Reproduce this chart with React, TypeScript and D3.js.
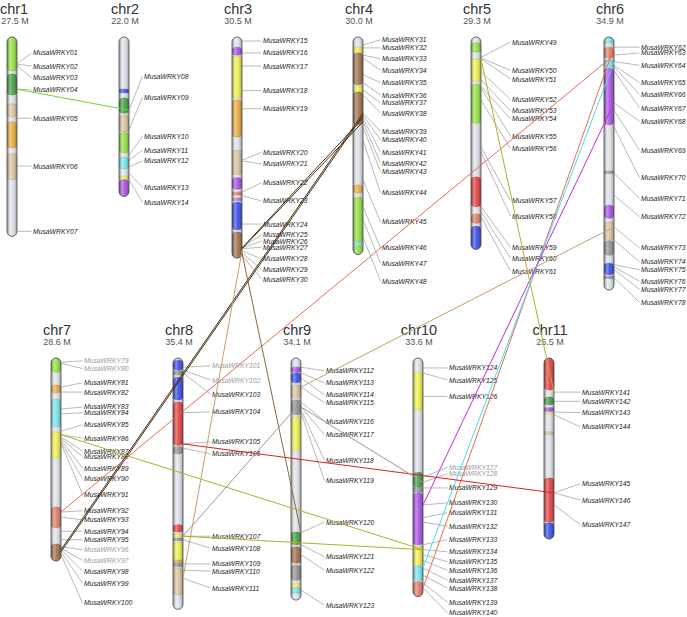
import React from "react";
import * as d3 from "d3";

// ---------- data ----------
const chromosomes = ["chr1", "chr2", "chr3", "chr4", "chr5", "chr6", "chr7", "chr8", "chr9", "chr10", "chr11"];
const chromLengthsMb = [27.5, 22.0, 30.5, 30.0, 29.3, 34.9, 28.6, 35.4, 34.1, 33.6, 25.5];

// bands: [startMb, endMb, colorKey]
const chr1Bands = [[0, 4.7, "lime"], [5.1, 8.0, "green"], [9.2, 11.0, "tan"], [11.7, 15.3, "orange"], [16.1, 19.7, "tan"]];
const chr2Bands = [[7.2, 7.7, "blue"], [8.4, 10.5, "green"], [10.8, 13.1, "tan"], [13.2, 16.0, "lime"], [16.6, 18.2, "cyan"], [19.2, 19.6, "yellow"], [19.7, 22.0, "purple"]];
const chr3Bands = [[1.4, 2.5, "purple"], [2.6, 8.4, "yellow"], [8.7, 13.8, "orange"], [15.6, 19.0, "tan"], [19.4, 21.0, "purple"], [21.4, 21.8, "salmon"], [22.2, 22.6, "pink"], [22.8, 26.6, "blue"], [26.9, 30.5, "brown"]];
const chr4Bands = [[1.4, 2.2, "yellow"], [2.2, 6.6, "brown"], [6.8, 7.6, "yellow"], [7.6, 12.1, "brown"], [20.4, 21.5, "orange"], [22.1, 28.3, "lime"], [28.3, 28.7, "cyan"], [28.8, 29.9, "lime"]];
const chr5Bands = [[0.8, 2.1, "lime"], [3.0, 6.1, "yellow"], [6.5, 11.9, "lime"], [19.3, 23.4, "red"], [24.4, 25.7, "salmon"], [26.1, 29.3, "blue"]];
const chr6Bands = [[0.1, 0.8, "cyan"], [1.4, 2.9, "salmon"], [3.2, 4.1, "cyan"], [4.3, 12.1, "purple"], [18.5, 18.8, "gray"], [23.2, 25.0, "purple"], [25.5, 28.0, "tan"], [28.1, 30.1, "gray"], [31.2, 32.8, "blue"], [33.0, 33.3, "gray"]];
const chr7Bands = [[0, 2.0, "lime"], [3.8, 4.9, "orange"], [5.8, 9.7, "cyan"], [10.4, 14.1, "yellow"], [21.0, 23.9, "salmon"], [26.2, 28.6, "brown"]];
const chr8Bands = [[0.3, 1.7, "blue"], [1.8, 2.4, "gray"], [2.7, 5.9, "blue"], [6.2, 12.3, "red"], [12.5, 13.5, "gray"], [23.5, 24.5, "red"], [24.8, 25.2, "yellow"], [25.4, 25.7, "gray"], [25.9, 28.5, "yellow"], [28.5, 28.8, "orange"], [28.9, 29.4, "gray"], [29.6, 33.4, "tan"]];
const chr9Bands = [[1.3, 2.0, "purple"], [2.1, 3.5, "blue"], [3.8, 5.6, "tan"], [5.9, 8.0, "gray"], [8.3, 13.0, "yellow"], [24.5, 26.3, "green"], [26.6, 28.9, "brown"], [29.2, 31.3, "gray"], [31.8, 32.3, "yellow"], [32.4, 33.1, "cyan"]];
const chr10Bands = [[2.0, 7.3, "yellow"], [16.1, 18.2, "green"], [18.2, 18.9, "gray"], [19.0, 26.3, "purple"], [26.5, 29.2, "yellow"], [29.3, 31.3, "cyan"], [31.5, 33.6, "salmon"]];
const chr11Bands = [[0, 4.5, "red"], [5.5, 6.6, "green"], [7.0, 7.5, "purple"], [7.7, 7.9, "yellow"], [10.4, 10.8, "tan"], [16.9, 23.1, "red"], [23.2, 25.5, "blue"]];

// genes: [MusaWRKY number, positionMb, labelMb]
const chr1Genes = [[1, 3.7, 2.2], [2, 3.75, 4.0], [3, 3.9, 5.65], [4, 7.2, 7.3], [5, 11.2, 11.2], [6, 17.8, 17.8], [7, 26.8, 26.8]];
const chr2Genes = [[8, 10.1, 5.4], [9, 12.8, 8.3], [10, 16.3, 13.7], [11, 17.0, 15.6], [12, 17.9, 17.1], [13, 18.8, 20.7], [14, 19.7, 22.8]];
const chr3Genes = [[15, 0.55, 0.55], [16, 2.2, 2.2], [17, 4.0, 4.0], [18, 7.4, 7.4], [19, 9.9, 9.9], [20, 17.0, 15.9], [21, 17.1, 17.5], [22, 21.4, 20.1], [23, 21.9, 22.6], [24, 25.8, 25.8], [25, 29.0, 27.3], [26, 29.1, 28.15], [27, 29.2, 29.0], [28, 29.5, 30.6], [29, 29.8, 32.0], [30, 30.1, 33.4]];
const chr4Genes = [[31, 1.1, 0.4], [32, 1.5, 1.5], [33, 2.5, 3.0], [34, 2.9, 4.6], [35, 5.2, 6.3], [36, 6.3, 8.0], [37, 7.3, 9.1], [38, 8.0, 10.5], [39, 10.5, 13.0], [40, 10.8, 14.2], [41, 11.2, 15.9], [42, 11.7, 17.4], [43, 12.4, 18.6], [44, 14.2, 21.5], [45, 19.7, 25.5], [46, 23.4, 29.1], [47, 25.2, 31.2], [48, 27.6, 33.7]];
const chr5Genes = [[49, 2.8, 0.7], [50, 2.9, 4.6], [51, 3.0, 5.8], [52, 4.8, 8.6], [53, 5.9, 10.2], [54, 6.8, 11.3], [55, 7.0, 13.7], [56, 8.7, 15.4], [57, 15.2, 22.6], [58, 15.9, 24.7], [59, 23.4, 29.0], [60, 24.1, 30.5], [61, 24.8, 32.3]];
const chr6Genes = [[62, 1.4, 1.4], [63, 2.5, 2.2], [64, 3.4, 3.9], [65, 3.9, 6.3], [66, 4.1, 7.9], [67, 4.6, 9.8], [68, 9.1, 11.6], [69, 10.1, 15.6], [70, 12.4, 19.4], [71, 18.8, 22.3], [72, 21.8, 24.8], [73, 26.2, 29.1], [74, 28.0, 31.0], [75, 31.4, 32.1], [76, 31.7, 33.7], [77, 32.1, 34.8], [78, 33.2, 36.6]];
const chr7Genes = [[79, 0.6, 0.4], [80, 0.7, 1.5], [81, 4.1, 3.5], [82, 4.8, 4.8], [83, 7.2, 6.9], [84, 7.9, 7.7], [85, 10.3, 9.4], [86, 10.8, 11.3], [87, 11.1, 13.1], [88, 11.3, 13.9], [89, 11.5, 15.5], [90, 11.8, 17.0], [91, 12.0, 19.2], [92, 21.7, 21.5], [93, 22.4, 22.8], [94, 24.4, 24.4], [95, 25.6, 25.6], [96, 26.6, 27.0], [97, 26.8, 28.5], [98, 27.0, 30.0], [99, 27.3, 31.7], [100, 27.7, 34.5]];
const chr8Genes = [[101, 1.3, 1.1], [102, 1.7, 3.1], [103, 2.1, 5.1], [104, 7.7, 7.6], [105, 12.1, 11.8], [106, 12.7, 13.5], [107, 25.1, 25.1], [108, 25.6, 26.8], [109, 29.0, 29.0], [110, 29.9, 30.0], [111, 31.0, 32.4]];
const chr9Genes = [[112, 1.3, 1.8], [113, 2.1, 3.5], [114, 2.8, 5.2], [115, 4.1, 6.3], [116, 6.2, 8.9], [117, 6.9, 10.8], [118, 7.3, 14.4], [119, 7.7, 17.3], [120, 24.6, 23.1], [121, 26.3, 28.0], [122, 27.7, 29.9], [123, 32.7, 34.8]];
const chr10Genes = [[124, 1.4, 1.4], [125, 2.1, 3.1], [126, 5.4, 5.4], [127, 16.8, 15.4], [128, 17.5, 16.3], [129, 18.3, 18.3], [130, 20.7, 20.4], [131, 22.5, 21.8], [132, 23.1, 23.7], [133, 26.3, 25.6], [134, 27.0, 27.3], [135, 27.7, 28.7], [136, 28.5, 29.9], [137, 29.6, 31.3], [138, 30.6, 32.4], [139, 31.7, 34.4], [140, 32.4, 35.9]];
const chr11Genes = [[141, 4.8, 4.8], [142, 6.1, 6.1], [143, 7.6, 7.7], [144, 8.0, 9.7], [145, 19.0, 17.7], [146, 19.0, 20.0], [147, 20.7, 23.5]];

const mutedGenes = [79, 80, 96, 97, 101, 102, 127, 128];

// segmental duplication links: [geneA, geneB, colorKey]
const links = [
  [4, 8, "lime"], [26, 41, "darkbrown"], [27, 42, "darkbrown"], [39, 98, "darkbrown"], [40, 99, "darkbrown"],
  [28, 111, "tanLink"], [29, 120, "brownLink"], [63, 92, "salmon"], [62, 140, "salmon"], [64, 137, "cyan"],
  [68, 130, "magenta"], [73, 115, "tanLink"], [51, 141, "olive"], [86, 134, "olive"], [107, 134, "olive"],
  [105, 146, "red"], [107, 116, "gray"], [117, 128, "gray"],
];

const allBands = [chr1Bands, chr2Bands, chr3Bands, chr4Bands, chr5Bands, chr6Bands, chr7Bands, chr8Bands, chr9Bands, chr10Bands, chr11Bands];
const allGenes = [chr1Genes, chr2Genes, chr3Genes, chr4Genes, chr5Genes, chr6Genes, chr7Genes, chr8Genes, chr9Genes, chr10Genes, chr11Genes];

// ---------- styles / layout ----------
const bandColors: Record<string, string> = {
  lime: "#8ddf3c", green: "#3e9b3e", tan: "#d9c19e", orange: "#e6a838", blue: "#3448e6",
  cyan: "#72e2ea", yellow: "#eeee4a", purple: "#a64ce2", brown: "#9c6c46", red: "#e03c3c",
  salmon: "#dc7a62", gray: "#8e8e8e", pink: "#c86ad6",
};
const linkColors: Record<string, string> = {
  lime: "#6fd43a", darkbrown: "#4a3018", tanLink: "#c4a070", brownLink: "#8a6a44", salmon: "#e07050",
  cyan: "#48dcea", magenta: "#c22ee0", olive: "#b4ae30", red: "#e02020", gray: "#9a9a9a",
};
const chromRow = [0, 0, 0, 0, 0, 0, 1, 1, 1, 1, 1];
const chromX = [12, 124, 237, 358, 476, 609, 56, 178, 296, 418, 549];
const labelGap = [21, 20, 26, 24, 36, 32, 28, 34, 30, 31, 33];
const rows = [{ top: 37, pxPerMb: 7.25 }, { top: 358, pxPerMb: 7.1 }];

const FONT = "'Liberation Sans', Arial, Helvetica, sans-serif";
const HW = 5;

export default function App() {
  const yScales = rows.map((r) => d3.scaleLinear().domain([0, 40]).range([r.top, r.top + 40 * r.pxPerMb]));
  const geneLookup = new Map<number, { x: number; y: number }>();
  allGenes.forEach((list, ci) => {
    const y = yScales[chromRow[ci]];
    list.forEach((g) => geneLookup.set(g[0] as number, { x: chromX[ci] + HW, y: y(g[1] as number) }));
  });
  const fmt = (n: number) => "MusaWRKY" + String(n).padStart(2, "0");

  return (
    <svg width={687} height={617} style={{ position: "absolute", left: 0, top: 0, background: "#fff" }} fontFamily={FONT}>
      <defs>
        <linearGradient id="cyl" x1="0" x2="1" y1="0" y2="0">
          <stop offset="0" stopColor="#000" stopOpacity={0.28} />
          <stop offset="0.3" stopColor="#fff" stopOpacity={0.4} />
          <stop offset="0.55" stopColor="#fff" stopOpacity={0.12} />
          <stop offset="1" stopColor="#000" stopOpacity={0.3} />
        </linearGradient>
        {chromosomes.map((c, ci) => {
          const y = yScales[chromRow[ci]];
          return (
            <clipPath id={`clip-${c}`} key={c}>
              <rect x={chromX[ci] - HW} y={y(0)} width={HW * 2} height={y(chromLengthsMb[ci]) - y(0)} rx={HW} />
            </clipPath>
          );
        })}
      </defs>
      {chromosomes.map((c, ci) => {
        const y = yScales[chromRow[ci]];
        const cx = chromX[ci];
        const y0 = y(0);
        const y1 = y(chromLengthsMb[ci]);
        const lx = cx + labelGap[ci];
        return (
          <g key={c}>
            <text x={Math.max(cx + 1, 14)} y={y0 - 23} textAnchor="middle" fontSize={14.5} fill="#333">{c}</text>
            <text x={Math.max(cx + 1, 15)} y={y0 - 13} textAnchor="middle" fontSize={9} fill="#555">{chromLengthsMb[ci].toFixed(1)} M</text>
            <rect x={cx - HW} y={y0} width={HW * 2} height={y1 - y0} rx={HW} fill="#dde0e7" />
            <g clipPath={`url(#clip-${c})`}>
              {allBands[ci].map((b, bi) => {
                const col = bandColors[b[2] as string];
                const ya = y(b[0] as number);
                const yb = y(b[1] as number);
                const h = yb - ya;
                return (
                  <rect key={bi} x={cx - HW} y={ya} width={HW * 2} height={h} rx={Math.min(4, h / 2)}
                    fill={col} stroke={d3.color(col)!.darker(0.6).toString()} strokeWidth={0.5} />
                );
              })}
              <rect x={cx - HW} y={y0} width={HW * 2} height={y1 - y0} fill="url(#cyl)" />
            </g>
            <rect x={cx - HW} y={y0} width={HW * 2} height={y1 - y0} rx={HW} fill="none" stroke="#5a5a5a" strokeWidth={0.9} />
            {allGenes[ci].map((g) => {
              const n = g[0] as number;
              const gy = y(g[1] as number);
              const ly = y(g[2] as number);
              const muted = mutedGenes.includes(n);
              return (
                <g key={n}>
                  <line x1={cx + HW} y1={gy} x2={lx - 1.5} y2={ly} stroke="#8a8a8a" strokeWidth={0.6} />
                  <text x={lx} y={ly} fontSize={6.8} fontStyle="italic" dominantBaseline="central" fill={muted ? "#9a9a9a" : "#1a1a1a"}>{fmt(n)}</text>
                </g>
              );
            })}
          </g>
        );
      })}
      <g>
        {links.map((l, i) => {
          const a = geneLookup.get(l[0] as number)!;
          const b = geneLookup.get(l[1] as number)!;
          return <line key={i} x1={a.x} y1={a.y} x2={b.x} y2={b.y} stroke={linkColors[l[2] as string]} strokeWidth={1} />;
        })}
      </g>
    </svg>
  );
}
